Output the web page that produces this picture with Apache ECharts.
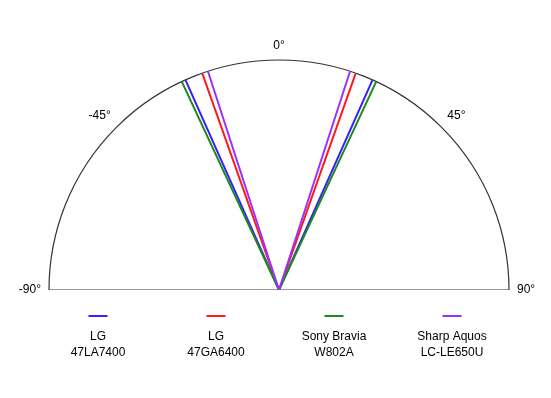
<!DOCTYPE html>
<html>
<head>
<meta charset="utf-8">
<script src="https://cdn.jsdelivr.net/npm/echarts@6/dist/echarts.min.js"></script>
<style>
  html, body { margin: 0; padding: 0; background: #fff; }
  #chart { width: 551px; height: 398px; }
</style>
</head>
<body>
<div id="chart"></div>
<script>
// viewing angle (half-angle, degrees) per TV
const brands = ['LG', 'LG', 'Sony Bravia', 'Sharp Aquos']
const modelNos = ['47LA7400', '47GA6400', 'W802A', 'LC-LE650U']
const viewAngles = [24, 19.5, 25, 18]
const colors = ['#3d1cff', '#ff1a1a', '#1a8c1a', '#9b30ff']
const angleTicks = [-90, 90, 45]  // min, max, interval

const names = brands.map((b, i) => b + ' ' + modelNos[i])
const font = 'Liberation Sans, Arial, Helvetica, sans-serif'

const rich = {
  t: { width: 100, align: 'center', fontSize: 12, lineHeight: 16, color: '#000', fontFamily: font },
}
colors.forEach((c, i) => {
  rich['l' + i] = { width: 19, height: 2, lineHeight: 26, align: 'center', backgroundColor: c }
})

const series = [
  {
    // baseline of the half circle
    type: 'line',
    coordinateSystem: 'polar',
    silent: true,
    symbol: 'none',
    lineStyle: { color: '#333', width: 1.2 },
    data: [[1, angleTicks[0]], [0, 0], [1, angleTicks[1]]],
  },
].concat(names.map((name, i) => ({
  name,
  type: 'line',
  coordinateSystem: 'polar',
  symbol: 'none',
  color: colors[i],
  lineStyle: { color: colors[i], width: 2 },
  data: [[1, -viewAngles[i]], [0, 0], [1, viewAngles[i]]],
})))

const chart = echarts.init(document.getElementById('chart'))
chart.setOption({
  animation: false,
  textStyle: { fontFamily: font },
  polar: { center: [279, 290], radius: 230 },
  angleAxis: {
    type: 'value',
    startAngle: 180,
    endAngle: 0,
    clockwise: true,
    min: angleTicks[0],
    max: angleTicks[1],
    interval: angleTicks[2],
    axisLine: { show: true, lineStyle: { color: '#333', width: 1.2 } },
    axisTick: { show: false },
    splitLine: { show: false },
    axisLabel: { formatter: '{value}°', color: '#000', fontSize: 12, margin: 8, fontFamily: font },
  },
  radiusAxis: {
    type: 'value',
    min: 0,
    max: 1,
    show: false,
  },
  legend: {
    data: names,
    orient: 'horizontal',
    left: 42,
    top: 310,
    padding: 0,
    itemGap: 12,
    itemWidth: 0,
    itemHeight: 0,
    itemStyle: { opacity: 0 },
    lineStyle: { opacity: 0 },
    textStyle: { rich, color: '#000', fontSize: 12, fontFamily: font },
    formatter: (name) => {
      const i = names.indexOf(name)
      return `{l${i}|}\n{t|${brands[i]}}\n{t|${modelNos[i]}}`
    },
  },
  series,
})
</script>
</body>
</html>
